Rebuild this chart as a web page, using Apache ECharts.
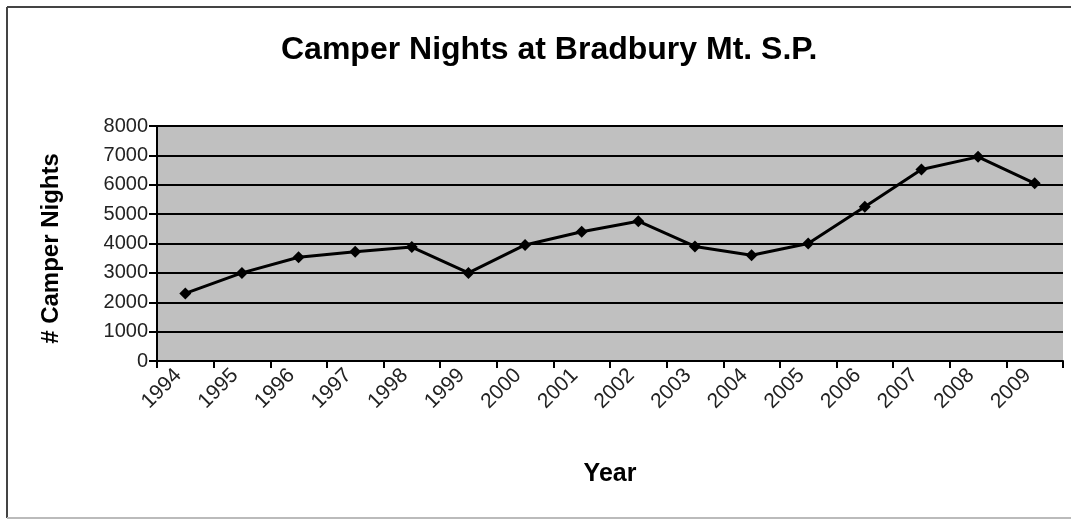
<!DOCTYPE html>
<html>
<head>
<meta charset="utf-8">
<script src="https://cdn.jsdelivr.net/npm/echarts@6/dist/echarts.min.js"></script>
<style>
  html, body { margin: 0; padding: 0; background: #fff; }
  #chart { width: 1071px; height: 519px; }
</style>
</head>
<body>
<div id="chart"></div>
<script>
// camper nights by year
const years = ['1994', '1995', '1996', '1997', '1998', '1999', '2000', '2001',
  '2002', '2003', '2004', '2005', '2006', '2007', '2008', '2009']
const camperNights = [2300, 3000, 3530, 3720, 3880, 3000, 3950, 4400,
  4760, 3900, 3600, 4000, 5250, 6520, 6950, 6050]
const yTicks = [0, 1000, 2000, 3000, 4000, 5000, 6000, 7000, 8000]

const font = '"Liberation Sans", Arial, sans-serif'

const chart = echarts.init(document.getElementById('chart'))

chart.setOption({
  animation: false,
  title: {
    text: 'Camper Nights at Bradbury Mt. S.P.',
    left: 276,
    top: 29,
    textStyle: { fontFamily: font, fontSize: 32, fontWeight: 'bold', color: '#000' }
  },
  grid: {
    left: 157,
    right: 8,
    top: 126,
    bottom: 158,
    show: true,
    backgroundColor: '#c0c0c0',
    borderWidth: 0
  },
  xAxis: {
    type: 'category',
    data: years,
    boundaryGap: true,
    name: 'Year',
    nameLocation: 'middle',
    nameGap: 101,
    nameTextStyle: { fontFamily: font, fontSize: 25, fontWeight: 'bold', color: '#000' },
    axisLine: { lineStyle: { color: '#000', width: 2 } },
    axisTick: { show: true, length: 7, lineStyle: { color: '#000', width: 2 } },
    axisLabel: {
      rotate: 45,
      margin: 4,
      padding: [0, 10, 14, 0],
      fontFamily: font,
      fontSize: 21,
      color: '#222'
    }
  },
  yAxis: {
    type: 'value',
    min: yTicks[0],
    max: yTicks[yTicks.length - 1],
    interval: 1000,
    name: '# Camper Nights',
    nameLocation: 'middle',
    nameGap: 94,
    nameTextStyle: {
      fontFamily: font, fontSize: 24, fontWeight: 'bold', color: '#000',
      padding: [0, 10, 0, 0]
    },
    axisLine: { show: true, lineStyle: { color: '#000', width: 2 } },
    axisTick: { show: true, length: 8, lineStyle: { color: '#000', width: 2 } },
    axisLabel: {
      margin: 9,
      fontFamily: font,
      fontSize: 20,
      color: '#222',
      formatter: v => String(v)
    },
    splitLine: { lineStyle: { color: '#000', width: 2 } }
  },
  series: [{
    type: 'line',
    data: camperNights,
    symbol: 'diamond',
    symbolSize: 12,
    lineStyle: { color: '#000', width: 3 },
    itemStyle: { color: '#000' }
  }],
  graphic: [
    // outer frame: dark on top/left, pale at the bottom
    { type: 'line', shape: { x1: 7, y1: 7, x2: 1071, y2: 7 }, style: { stroke: '#444', lineWidth: 2 } },
    { type: 'line', shape: { x1: 7, y1: 7, x2: 7, y2: 518 }, style: { stroke: '#444', lineWidth: 2 } },
    { type: 'line', shape: { x1: 7, y1: 518, x2: 1071, y2: 518 }, style: { stroke: '#bbb', lineWidth: 2 } }
  ]
})
</script>
</body>
</html>
